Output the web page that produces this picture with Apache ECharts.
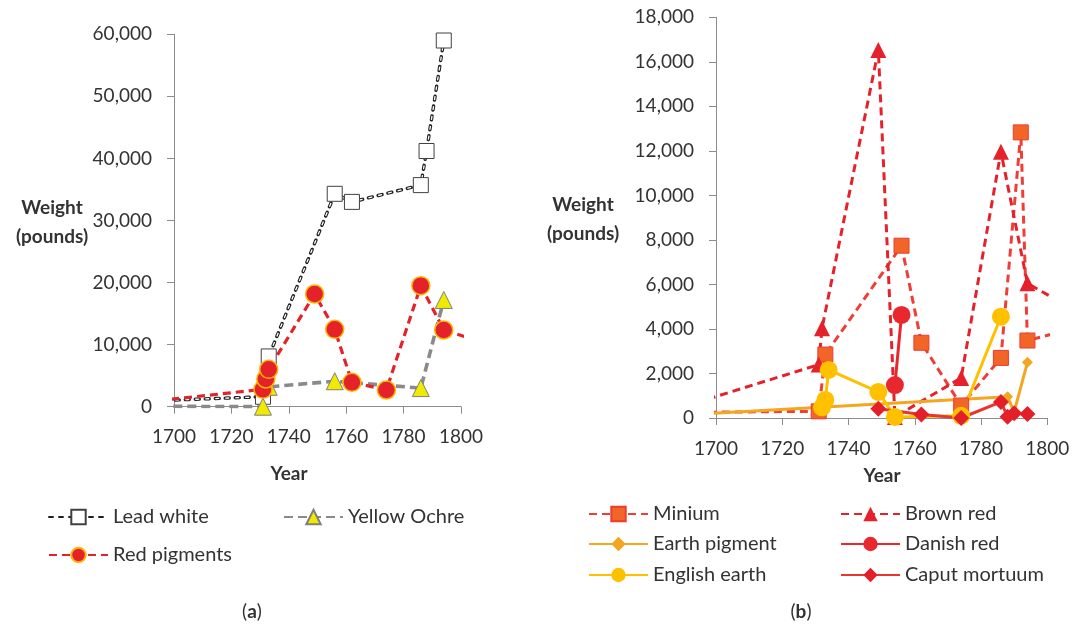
<!DOCTYPE html>
<html><head><meta charset="utf-8">
<script src="https://cdn.jsdelivr.net/npm/echarts@6/dist/echarts.min.js"></script>
<style>html,body{margin:0;padding:0;background:#fff}#c{width:1082px;height:629px}</style>
</head><body><div id="c"></div>
<script>
// ---- Data (a) ----
const leadWhiteYears  = [1690, 1731, 1733, 1756, 1762, 1786, 1788, 1794];
const leadWhiteValues = [900, 1600, 8100, 34300, 33000, 35700, 41200, 59000];
const ochreYears  = [1690, 1731, 1733, 1756, 1786, 1794];
const ochreValues = [80, 0, 3200, 4100, 3000, 17200];
const redYears  = [1690, 1731, 1732, 1733, 1749, 1756, 1762, 1774, 1786, 1794, 1810];
const redValues = [740, 2800, 4460, 6020, 18160, 12470, 3930, 2690, 19500, 12360, 10000];
// ---- Data (b) ----
const miniumYears  = [1690, 1731, 1733, 1756, 1762, 1774, 1786, 1792, 1794, 1810];
const miniumValues = [250, 300, 2850, 7740, 3380, 560, 2700, 12830, 3480, 4100];
const brownYears  = [1690, 1731, 1732, 1749, 1754, 1774, 1786, 1794, 1810];
const brownValues = [500, 2400, 4030, 16530, 50, 1800, 11960, 6050, 4700];
const earthYears  = [1690, 1788, 1790, 1794];
const earthValues = [130, 950, 280, 2500];
const danishYears  = [1754, 1756];
const danishValues = [1480, 4630];
const englishYears  = [1732, 1733, 1734, 1749, 1754, 1774, 1786];
const englishValues = [480, 810, 2160, 1170, 50, 100, 4550];
const caputYears  = [1749, 1762, 1774, 1786, 1788, 1790, 1794];
const caputValues = [420, 160, 0, 720, 60, 210, 180];
// ---- Axis ticks ----
const xMin = 1700, xMax = 1800, xStep = 20;
const yaMax = 60000, yaStep = 10000;
const ybMax = 18000, ybStep = 2000;

const zip = (xs, ys) => xs.map((x, i) => [x, ys[i]]);
const FONT = 'Lato, "Liberation Sans", sans-serif';
const TXT = '#333333';
const AX = '#8c8c8c';

function xAxis(g) {
  return {gridIndex: g, type: 'value', min: xMin, max: xMax, interval: xStep,
    axisLine: {show: true, lineStyle: {color: AX, width: 1}},
    axisTick: {show: true, length: 7, lineStyle: {color: AX}},
    splitLine: {show: false},
    axisLabel: {color: TXT, fontSize: 19, fontFamily: FONT, margin: 21, formatter: v => String(v)}};
}
function yAxis(g, max, step) {
  return {gridIndex: g, type: 'value', min: 0, max: max, interval: step,
    axisLine: {show: true, lineStyle: {color: AX, width: 1}},
    axisTick: {show: true, length: 7, lineStyle: {color: AX}},
    splitLine: {show: false},
    axisLabel: {color: TXT, fontSize: 19, fontFamily: FONT, margin: 22,
      formatter: v => v.toLocaleString('en-US')}};
}

const LW_DASH = [4, 6];
const series = [
  {name: 'Lead white', type: 'line', xAxisIndex: 0, yAxisIndex: 0,
    data: zip(leadWhiteYears, leadWhiteValues),
    symbol: 'rect', symbolSize: 15,
    itemStyle: {color: '#ffffff', borderColor: '#404040', borderWidth: 1},
    lineStyle: {color: '#202020', width: 3.4, type: LW_DASH, cap: 'round'}},
  {name: 'lw-overlay', type: 'line', xAxisIndex: 0, yAxisIndex: 0,
    data: zip(leadWhiteYears, leadWhiteValues), silent: true,
    symbol: 'none',
    lineStyle: {color: '#ffffff', width: 1.3, type: LW_DASH, cap: 'butt'}},
  {name: 'Yellow Ochre', type: 'line', xAxisIndex: 0, yAxisIndex: 0,
    data: zip(ochreYears, ochreValues),
    symbol: 'triangle', symbolSize: 17,
    itemStyle: {color: '#F0EA00', borderColor: '#7f7f7f', borderWidth: 1},
    lineStyle: {color: '#8a8a8a', width: 3.6, type: [9, 5]}},
  {name: 'Red pigments', type: 'line', xAxisIndex: 0, yAxisIndex: 0,
    data: zip(redYears, redValues),
    symbol: 'circle', symbolSize: 18,
    itemStyle: {color: '#E3222A', borderColor: '#FFB300', borderWidth: 1.5},
    lineStyle: {color: '#E3222A', width: 3.2, type: [8, 5]}},

  {name: 'Minium', type: 'line', xAxisIndex: 1, yAxisIndex: 1,
    data: zip(miniumYears, miniumValues),
    symbol: 'rect', symbolSize: 15,
    itemStyle: {color: '#F26528', borderColor: '#EE3B2E', borderWidth: 1},
    lineStyle: {color: '#EF3E36', width: 3, type: [8, 5]}},
  {name: 'Brown red', type: 'line', xAxisIndex: 1, yAxisIndex: 1,
    data: zip(brownYears, brownValues),
    symbol: 'triangle', symbolSize: 16,
    itemStyle: {color: '#E5212B'},
    lineStyle: {color: '#E5212B', width: 3, type: [8, 5]}},
  {name: 'Earth pigment', type: 'line', xAxisIndex: 1, yAxisIndex: 1,
    data: zip(earthYears, earthValues),
    symbol: 'diamond', symbolSize: 11,
    itemStyle: {color: '#F4A620'},
    lineStyle: {color: '#F4A620', width: 3, type: 'solid'}},
  {name: 'Danish red', type: 'line', xAxisIndex: 1, yAxisIndex: 1,
    data: zip(danishYears, danishValues),
    symbol: 'circle', symbolSize: 18,
    itemStyle: {color: '#E8282E'},
    lineStyle: {color: '#E8282E', width: 3, type: 'solid'}},
  {name: 'English earth', type: 'line', xAxisIndex: 1, yAxisIndex: 1,
    data: zip(englishYears, englishValues),
    symbol: 'circle', symbolSize: 18,
    itemStyle: {color: '#FFC000'},
    lineStyle: {color: '#FFC000', width: 3, type: 'solid'}},
  {name: 'Caput mortuum', type: 'line', xAxisIndex: 1, yAxisIndex: 1,
    data: zip(caputYears, caputValues),
    symbol: 'diamond', symbolSize: 16,
    itemStyle: {color: '#E3202A'},
    lineStyle: {color: '#E8352E', width: 3, type: 'solid'}}
];
series.forEach(s => { s.clip = true; s.animation = false; s.showAllSymbol = true; s.emphasis = {disabled: true}; });

function leg(name, x, cy) {
  return {data: [name], left: x, top: cy - 10, padding: 0, itemWidth: 59, itemHeight: 18,
    textStyle: {fontSize: 20, fontFamily: FONT, color: TXT, lineHeight: 20}, selectedMode: false};
}

const gText = (t, x, y, bold) => ({type: 'text', x: x, y: y,
  style: {text: t, font: (bold ? 'bold ' : '') + '19px ' + FONT, fill: TXT, align: 'center', verticalAlign: 'middle'}});

const option = {
  backgroundColor: '#ffffff',
  animation: false,
  grid: [
    {left: 174, top: 34.3, width: 287, height: 372.4, containLabel: false},
    {left: 716, top: 17.3, width: 331.3, height: 400.7, containLabel: false}
  ],
  xAxis: [xAxis(0), xAxis(1)],
  yAxis: [yAxis(0, yaMax, yaStep), yAxis(1, ybMax, ybStep)],
  legend: [
    leg('Lead white', 48, 517), leg('Yellow Ochre', 283, 517), leg('Red pigments', 48, 555),
    leg('Minium', 588, 514), leg('Brown red', 840, 514),
    leg('Earth pigment', 588, 544), leg('Danish red', 840, 544),
    leg('English earth', 588, 575), leg('Caput mortuum', 840, 575)
  ],
  graphic: [
    gText('Weight', 52, 208, true), gText('(pounds)', 52, 237, true),
    gText('Weight', 583, 205, true), gText('(pounds)', 583, 234, true),
    gText('Year', 289, 474, true), gText('Year', 882, 476, true),
    {type: 'text', x: 252, y: 612, style: {text: '({b|a})', font: '19px ' + FONT, fill: TXT, align: 'center', verticalAlign: 'middle',
      rich: {b: {fontWeight: 'bold', fontSize: 19, fontFamily: FONT, fill: TXT}}}},
    {type: 'text', x: 801, y: 612, style: {text: '({b|b})', font: '19px ' + FONT, fill: TXT, align: 'center', verticalAlign: 'middle',
      rich: {b: {fontWeight: 'bold', fontSize: 19, fontFamily: FONT, fill: TXT}}}}
  ],
  series: series
};
const chart = echarts.init(document.getElementById('c'), null, {renderer: 'canvas'});
chart.setOption(option);
</script></body></html>
